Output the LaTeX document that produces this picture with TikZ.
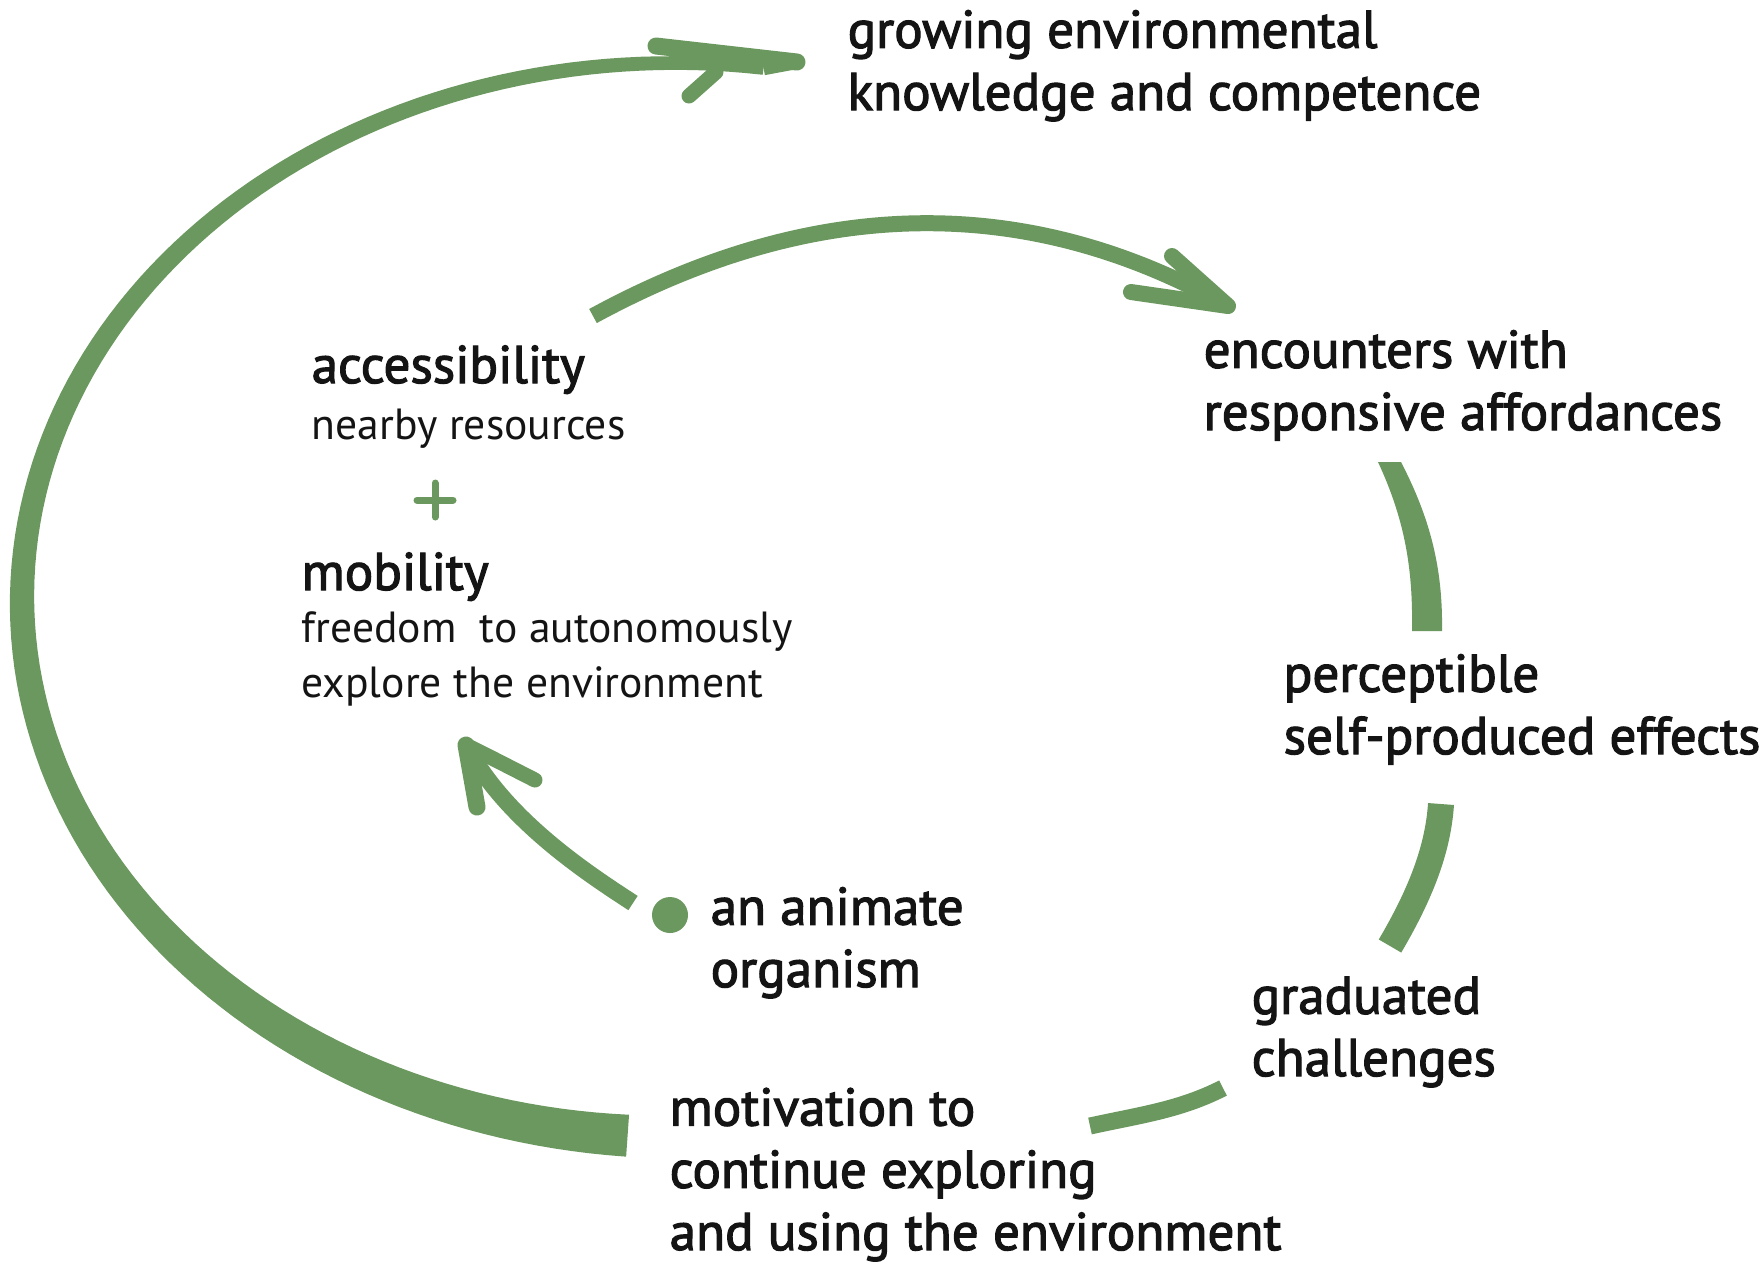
\documentclass[tikz,border=0pt]{standalone}
\usepackage{fontspec}
\setmainfont{PT Sans}
\newfontfamily\labelfont{PT Sans}[FakeBold=2.2]

\definecolor{leaf}{RGB}{106,152,94}
\definecolor{ink}{RGB}{20,20,20}

\tikzset{
  lab/.style={inner sep=0pt, align=left, anchor=base west, text=ink,
              font=\labelfont\fontsize{15.1}{17.7}\selectfont},
  desc/.style={inner sep=0pt, align=left, anchor=base west, text=ink,
               font=\fontsize{12.4}{15.4}\selectfont},
  brush/.style={draw=leaf, line cap=butt, line join=round},
  barb/.style={draw=leaf, line cap=round, line join=round},
  declare function={wd(\t)=13+29*((280-\t)/186)*(0.4+0.6*((280-\t)/186));}
}

\begin{document}
\begin{tikzpicture}[x=0.01cm, y=-0.01cm]
  \fill[white] (0,0) rectangle (1760,1265);
  \useasboundingbox (0,0) rectangle (1760,1265);

  % labels (each placed at the baseline of its last line)
  \node[lab] (grow) at (847,110) {growing environmental\\knowledge and competence};
  \node[lab] (enc) at (1203,430) {encounters with\\responsive affordances};
  \node[lab] (acc) at (311,383) {accessibility};
  \node[desc] (near) at (311,439) {nearby resources};
  \node[lab] (mob) at (301,590) {mobility};
  \node[desc] (free) at (301,697) {freedom\ \ to autonomously\\explore the environment};
  \node[lab] (perc) at (1283,754) {perceptible\\self-produced effects};
  \node[lab] (org) at (710,987) {an animate\\organism};
  \node[lab] (grad) at (1251,1076) {graduated\\challenges};
  \node[lab] (mot) at (669,1250) {motivation to\\continue exploring\\and using the environment};

  % the plus between accessibility and mobility
  \coordinate (plus) at (435,500);
  \draw[barb, line width=7*0.01cm] ([xshift=-18*0.01cm]plus) -- ([xshift=18*0.01cm]plus);
  \draw[barb, line width=7*0.01cm] ([yshift=17*0.01cm]plus) -- ([yshift=-17*0.01cm]plus);

  % the organism dot
  \fill[leaf] (670,915) circle[radius=18];
  \coordinate (dot) at (670,915);

  % outer loop: tapered stroke from motivation round to knowledge
  \fill[leaf] plot[domain=94:278, samples=120, variable=\t]
      ({673+(651+wd(\t)/2)*cos(\t)}, {600+(537+wd(\t)/2)*sin(\t)})
    -- plot[domain=278:94, samples=120, variable=\t]
      ({673+(651-wd(\t)/2)*cos(\t)}, {600+(537-wd(\t)/2)*sin(\t)})
    -- cycle;
  \coordinate (loopend) at ({673+651*cos(278)}, {600+537*sin(278)});
  \coordinate (looptip) at (797,62);
  \coordinate (loopup) at (656,46);
  \coordinate (looplow) at (689,96);
  \coordinate (looplowj) at (716,72);
  \draw[brush, line width=14*0.01cm] (loopend) -- (looptip);
  \draw[barb, line width=17*0.01cm] (loopup) -- (looptip);
  \draw[barb, line width=15*0.01cm] (looplow) -- (looplowj);

  % accessibility -> encounters
  \coordinate (topA) at (593,316);
  \coordinate (topB) at (1228,306);
  \draw[brush, line width=16*0.01cm] (topA) .. controls (795,206) and (1010,183) .. (topB);
  \coordinate (topup) at (1172,256);
  \coordinate (toplow) at (1131,292);
  \draw[barb, line width=16*0.01cm] (topup) -- (topB) -- (toplow);

  % encounters -> perceptible (widening downwards)
  \coordinate (s1a) at (1389,462);
  \coordinate (s1b) at (1427,631);
  \fill[leaf] (1378,462) .. controls (1406,522) and (1413,572) .. (1412,631)
    -- (1442,631) .. controls (1443,568) and (1430,518) .. (1401,462) -- cycle;

  % perceptible -> graduated
  \coordinate (s2a) at (1441,804);
  \coordinate (s2b) at (1390,946);
  \draw[brush, line width=26*0.01cm] (s2a) .. controls (1438,850) and (1420,895) .. (s2b);

  % graduated -> motivation
  \coordinate (s3a) at (1223,1088);
  \coordinate (s3b) at (1090,1126);
  \draw[brush, line width=17*0.01cm] (s3a) .. controls (1180,1110) and (1140,1115) .. (s3b);

  % organism -> mobility
  \coordinate (mA) at (633,903);
  \coordinate (mB) at (466,745);
  \draw[brush, line width=17*0.01cm] (mA) .. controls (590,875) and (505,820) .. (mB);
  \coordinate (mleft) at (477,807);
  \coordinate (mright) at (535,780);
  \coordinate (mrj) at (484,754);
  \draw[barb, line width=17*0.01cm] (mleft) -- (mB);
  \draw[barb, line width=15*0.01cm] (mB) -- (mrj) -- (mright);
\end{tikzpicture}
\end{document}
